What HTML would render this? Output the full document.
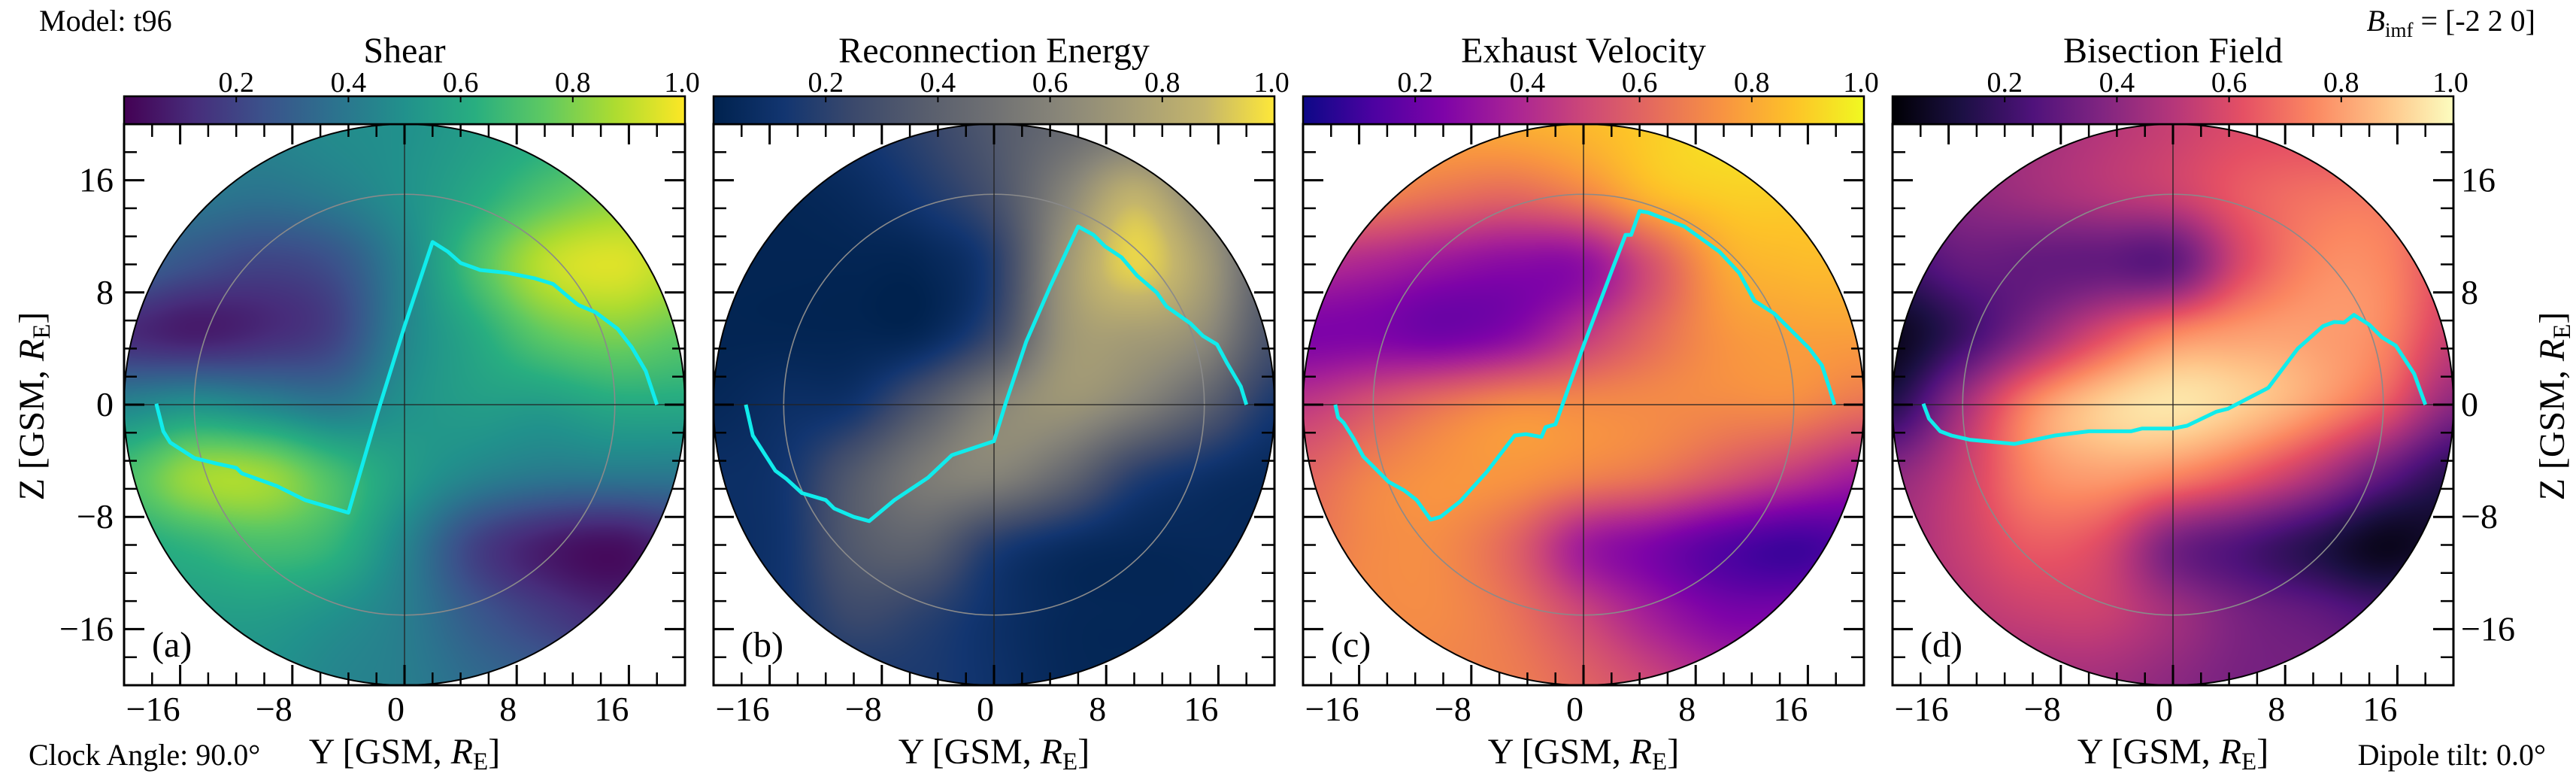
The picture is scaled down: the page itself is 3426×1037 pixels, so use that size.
<!DOCTYPE html>
<html><head><meta charset="utf-8">
<style>
html,body{margin:0;padding:0;background:#fff;}
#wrap{position:relative;width:3426px;height:1037px;overflow:hidden;background:#fff;}
canvas{position:absolute;top:165px;}
svg{position:absolute;left:0;top:0;}
text{font-family:"Liberation Serif",serif;fill:#000;}
</style></head>
<body>
<div id="wrap">
<canvas id="cv0" width="746" height="746" style="left:165px"></canvas>
<canvas id="cv1" width="746" height="746" style="left:949px"></canvas>
<canvas id="cv2" width="746" height="746" style="left:1733px"></canvas>
<canvas id="cv3" width="746" height="746" style="left:2517px"></canvas>
<svg id="svg" width="3426" height="1037" xmlns="http://www.w3.org/2000/svg">
<text x="52" y="41" font-size="40">Model: t96</text>
<text x="3372" y="41" font-size="40" text-anchor="end"><tspan font-style="italic">B</tspan><tspan font-size="27" dy="8">imf</tspan><tspan dy="-8"> = [-2 2 0]</tspan></text>
<text x="38" y="1017" font-size="40">Clock Angle: 90.0°</text>
<text x="3386" y="1017" font-size="40" text-anchor="end">Dipole tilt: 0.0°</text>
<text transform="translate(58,540) rotate(-90)" text-anchor="middle" font-size="48">Z [GSM, <tspan font-style="italic">R</tspan><tspan font-size="33" dy="8">E</tspan><tspan dy="-8">]</tspan></text>
<text transform="translate(3410,540) rotate(-90)" text-anchor="middle" font-size="48">Z [GSM, <tspan font-style="italic">R</tspan><tspan font-size="33" dy="8">E</tspan><tspan dy="-8">]</tspan></text>
</svg>
</div>
<script>
// ---- data ----
const gridY = [-20,-15,-10,-5,0,5,10,15,20];
const gridZ = [20,15,10,5,0,-5,-10,-15,-20];
const shearGrid = [
[.45,.45,.45,.48,.50,.55,.60,.65,.70],
[.40,.40,.38,.42,.50,.60,.72,.80,.80],
[.32,.25,.20,.25,.45,.70,.90,.95,.88],
[.12,.08,.12,.20,.45,.60,.75,.80,.75],
[.45,.50,.45,.40,.50,.55,.55,.60,.60],
[.70,.85,.85,.70,.55,.45,.40,.40,.40],
[.60,.65,.70,.65,.45,.20,.08,.04,.12],
[.55,.55,.55,.50,.42,.28,.18,.12,.18],
[.50,.50,.50,.45,.42,.35,.30,.25,.30]];
const energyGrid = [
[.04,.08,.12,.22,.35,.45,.50,.35,.20],
[.03,.03,.06,.15,.30,.60,.85,.60,.30],
[.02,.02,.02,.03,.18,.70,.95,.75,.35],
[.02,.02,.02,.04,.25,.70,.75,.65,.30],
[.04,.08,.12,.35,.60,.70,.60,.40,.15],
[.08,.12,.35,.55,.60,.45,.20,.10,.05],
[.08,.12,.35,.40,.18,.08,.04,.04,.04],
[.08,.12,.25,.20,.10,.04,.03,.03,.04],
[.08,.12,.14,.15,.10,.04,.03,.03,.04]];
const exhaustGrid = [
[.80,.80,.80,.82,.85,.90,.95,.95,.90],
[.70,.70,.65,.62,.70,.85,.90,.90,.88],
[.42,.38,.32,.28,.30,.55,.80,.85,.85],
[.25,.25,.22,.28,.45,.62,.75,.78,.78],
[.45,.55,.65,.72,.72,.72,.72,.72,.65],
[.60,.70,.75,.75,.70,.65,.55,.45,.35],
[.65,.72,.72,.60,.35,.25,.15,.10,.15],
[.70,.72,.72,.65,.50,.35,.25,.25,.30],
[.70,.70,.70,.68,.60,.50,.40,.40,.40]];
const bisectionGrid = [
[.40,.42,.45,.50,.55,.60,.60,.55,.50],
[.35,.40,.45,.50,.55,.65,.70,.70,.60],
[.20,.30,.30,.30,.30,.60,.75,.75,.60],
[.05,.20,.40,.60,.75,.80,.80,.75,.55],
[.15,.45,.75,.90,.95,.90,.80,.65,.40],
[.40,.55,.75,.80,.75,.65,.50,.30,.15],
[.45,.55,.65,.60,.35,.25,.15,.05,.10],
[.40,.50,.55,.55,.45,.35,.30,.25,.30],
[.40,.45,.45,.45,.40,.35,.35,.35,.35]];

const lineA_Y = [-17.7,-17.2,-16.7,-15,-13.4,-12,-11.6,-9.1,-7.1,-4,-1.9,0,2,3.1,4,5.4,7.3,9.3,10.6,11.9,12.4,13.6,15.2,16.2,17.2,18];
const lineA_Z = [0.07,-1.9,-2.7,-3.8,-4.2,-4.5,-4.9,-5.8,-6.8,-7.7,-0.5,5.6,11.6,10.9,10.1,9.6,9.4,9,8.6,7.5,7.1,6.6,5.4,4.1,2.4,0];
const lineB_Y = [-17.7,-17.2,-15.6,-14.8,-13.7,-12,-11.4,-10,-8.9,-7.1,-4.7,-3,0,0.8,2.3,4,6,7.1,7.9,9.1,10.2,11.6,12.3,14,14.9,15.9,16.6,17.6,18];
const lineB_Z = [0,-2.2,-4.7,-5.3,-6.3,-6.8,-7.4,-8,-8.3,-6.8,-5.2,-3.6,-2.6,0,4.5,8.4,12.7,12.1,11.3,10.5,9.2,8,7,5.8,4.9,4.3,3,1.3,0];
const lineC_Y = [-17.7,-17.5,-17.1,-16.4,-15.7,-14.9,-13.9,-12.8,-11.9,-10.9,-10.2,-8.8,-6.9,-4.9,-4.1,-3,-2.7,-2,0,2,3,3.4,4,4.6,7.2,9.7,11.1,12.2,13.6,15,16.1,17,17.5,17.9];
const lineC_Z = [0,-0.9,-1.3,-2.4,-3.7,-4.5,-5.5,-6.1,-6.8,-8.2,-8,-6.9,-4.8,-2.2,-2.1,-2.3,-1.6,-1.4,4.2,9.5,12.1,12.1,13.8,13.7,12.7,10.9,9.4,7.4,6.5,5.1,4,2.8,1.3,0];
const lineD_Y = [-17.8,-17.4,-16.6,-15.8,-14.5,-11.3,-8.4,-6,-3,-2.2,0,1,3.1,3.9,6.8,8.9,10.7,11.5,12.2,12.9,14,14.9,15.9,17.2,18];
const lineD_Z = [0.07,-1,-1.9,-2.2,-2.5,-2.8,-2.2,-1.9,-1.9,-1.7,-1.7,-1.5,-0.5,-0.3,1.2,4,5.6,5.9,5.85,6.4,5.7,4.8,4.2,2.2,0];

const axisTicksMajor = [-16,-8,0,8,16];
const axisTicksMinor = [-18,-14,-12,-10,-6,-4,-2,2,4,6,10,12,14,18];
const cbarTicks = [0.2,0.4,0.6,0.8,1.0];
const cbarTickLabels = ["0.2","0.4","0.6","0.8","1.0"];

const viridis = ["#440154","#472d7b","#3b528b","#2c728e","#21918c","#28ae80","#5ec962","#addc30","#fde725"];
const cividis = ["#00224e","#123570","#3b496c","#575d6d","#707173","#8a8779","#a69d75","#c4b56c","#fee838"];
const plasma  = ["#0d0887","#4c02a1","#7e03a8","#a92395","#cc4778","#e56b5d","#f89441","#fdc328","#f0f921"];
const magma   = ["#000004","#1c1044","#4f127b","#812581","#b5367a","#e55064","#fb8761","#fec287","#fcfdbf"];

const panels = [
 {left:165, title:"Shear", tag:"(a)", grid:shearGrid, cmap:viridis, ly:lineA_Y, lz:lineA_Z, name:"shear"},
 {left:949, title:"Reconnection Energy", tag:"(b)", grid:energyGrid, cmap:cividis, ly:lineB_Y, lz:lineB_Z, name:"reconnection-energy"},
 {left:1733, title:"Exhaust Velocity", tag:"(c)", grid:exhaustGrid, cmap:plasma, ly:lineC_Y, lz:lineC_Z, name:"exhaust-velocity"},
 {left:2517, title:"Bisection Field", tag:"(d)", grid:bisectionGrid, cmap:magma, ly:lineD_Y, lz:lineD_Z, name:"bisection-field"}
];

// ---- geometry ----
const TOP = 165, SIZE = 746, HALF = 373, CY = TOP + HALF, PPU = SIZE / 40;
function xs(p, y){ return p.left + HALF + y * PPU; }
function ys(z){ return CY - z * PPU; }

function hex(h){ return [parseInt(h.substr(1,2),16),parseInt(h.substr(3,2),16),parseInt(h.substr(5,2),16)]; }
function cmapColor(cm, v){
  v = Math.max(0, Math.min(1, v));
  const f = v * (cm.length - 1), i = Math.min(cm.length - 2, Math.floor(f)), t = f - i;
  const a = hex(cm[i]), b = hex(cm[i+1]);
  return [a[0]+(b[0]-a[0])*t, a[1]+(b[1]-a[1])*t, a[2]+(b[2]-a[2])*t];
}
function cr(p0,p1,p2,p3,t){ return 0.5*((2*p1)+(-p0+p2)*t+(2*p0-5*p1+4*p2-p3)*t*t+(-p0+3*p1-3*p2+p3)*t*t*t); }
function sample(g, u, v){
  const n = g.length;
  const iu = Math.min(n-2, Math.floor(u)), iv = Math.min(n-2, Math.floor(v));
  const tu = u - iu, tv = v - iv;
  const cl = k => Math.max(0, Math.min(n-1, k));
  const rows = [];
  for (let j=-1;j<=2;j++){
    const r = g[cl(iv+j)];
    rows.push(cr(r[cl(iu-1)], r[cl(iu)], r[cl(iu+1)], r[cl(iu+2)], tu));
  }
  return cr(rows[0], rows[1], rows[2], rows[3], tv);
}

const NS = "http://www.w3.org/2000/svg";
const svg = document.getElementById("svg");
function el(tag, attrs, parent){
  const e = document.createElementNS(NS, tag);
  for (const k in attrs) e.setAttribute(k, attrs[k]);
  (parent || svg).appendChild(e);
  return e;
}

panels.forEach((p, idx) => {
  const cv = document.getElementById("cv" + idx), ctx = cv.getContext("2d");
  const img = ctx.createImageData(SIZE, SIZE);
  const span = gridY[gridY.length-1] - gridY[0];
  for (let py=0; py<SIZE; py++){
    for (let px=0; px<SIZE; px++){
      const dx = px + 0.5 - HALF, dy = py + 0.5 - HALF;
      const o = (py*SIZE + px)*4;
      if (dx*dx + dy*dy > HALF*HALF) { img.data[o+3] = 0; continue; }
      const Y = dx / PPU, Z = -dy / PPU;
      const u = (Y - gridY[0]) / span * (gridY.length-1);
      const v = (gridZ[0] - Z) / span * (gridZ.length-1);
      const c = cmapColor(p.cmap, sample(p.grid, u, v));
      img.data[o]=c[0]; img.data[o+1]=c[1]; img.data[o+2]=c[2]; img.data[o+3]=255;
    }
  }
  ctx.putImageData(img, 0, 0);

  const g = el("g", {});
  
  

  const oc = el("circle", {cx:p.left+HALF, cy:CY, r:HALF, fill:"none", stroke:"#000", "stroke-width":2}, g);
  
  
  const ic = el("circle", {cx:p.left+HALF, cy:CY, r:15*PPU, fill:"none", stroke:"#8a8a8a", "stroke-width":1.6}, g);
  
  
  const hl = el("line", {x1:p.left, x2:p.left+SIZE, y1:ys(0), y2:ys(0), stroke:"#222", "stroke-width":1.3}, g);
  
  
  const vl = el("line", {x1:xs(p,0), x2:xs(p,0), y1:TOP, y2:TOP+SIZE, stroke:"#222", "stroke-width":1.3}, g);
  
  

  let d = "";
  p.ly.forEach((y, i) => { d += (i ? "L" : "M") + xs(p, y).toFixed(1) + "," + ys(p.lz[i]).toFixed(1); });
  const path = el("path", {d:d, fill:"none", stroke:"#10ecec", "stroke-width":5, "stroke-linejoin":"round"}, g);
  
  

  const fr = el("rect", {x:p.left, y:TOP, width:SIZE, height:SIZE, fill:"none", stroke:"#000", "stroke-width":3}, g);
  
  

  function ticks(vals, len, w){
    vals.forEach(t => {
      const x = xs(p, t), y = ys(t);
      el("line", {x1:x, x2:x, y1:TOP, y2:TOP+len, stroke:"#000", "stroke-width":w}, g);
      el("line", {x1:x, x2:x, y1:TOP+SIZE, y2:TOP+SIZE-len, stroke:"#000", "stroke-width":w}, g);
      el("line", {x1:p.left, x2:p.left+len, y1:y, y2:y, stroke:"#000", "stroke-width":w}, g);
      el("line", {x1:p.left+SIZE, x2:p.left+SIZE-len, y1:y, y2:y, stroke:"#000", "stroke-width":w}, g);
    });
  }
  ticks(axisTicksMajor, 27, 3);
  ticks(axisTicksMinor, 17, 2.5);

  axisTicksMajor.forEach(t => {
    const tx = el("text", {x:xs(p,t), y:958, "font-size":46, "text-anchor":"end"}, g);
    
    
    tx.textContent = t < 0 ? "\u2212" + Math.abs(t) : String(t);
  });
  if (idx === 0 || idx === 3) {
    axisTicksMajor.forEach(t => {
      const left = idx === 0;
      const tx = el("text", {x: left ? p.left-14 : p.left+SIZE+10, y:ys(t)+15, "font-size":46, "text-anchor": left ? "end" : "start"}, g);
      
      
      tx.textContent = t < 0 ? "\u2212" + Math.abs(t) : String(t);
    });
  }
  const xt = el("text", {x:p.left+HALF, y:1015, "font-size":48, "text-anchor":"middle"}, g);
  
  
  xt.innerHTML = 'Y [GSM, <tspan font-style="italic">R</tspan><tspan font-size="33" dy="8">E</tspan><tspan dy="-8">]</tspan>';

  const tg = el("text", {x:p.left+37, y:873, "font-size":48}, g);
  
  
  tg.textContent = p.tag;

  const gid = "grad" + idx;
  const defs = el("defs", {}, g);
  const lg = el("linearGradient", {id:gid, x1:0, x2:1, y1:0, y2:0}, defs);
  p.cmap.forEach((c, i) => el("stop", {offset:(i/(p.cmap.length-1)), "stop-color":c}, lg));
  const cb = el("rect", {x:p.left, y:128, width:SIZE, height:37, fill:"url(#"+gid+")", stroke:"#000", "stroke-width":2.5}, g);
  
  
  cbarTicks.forEach((t, i) => {
    const x = p.left + t*SIZE;
    el("line", {x1:x, x2:x, y1:128, y2:136, stroke:"#000", "stroke-width":2}, g);
    const tl = el("text", {x:i === cbarTicks.length-1 ? x-4 : x, y:122, "font-size":38, "text-anchor":"middle"}, g);
    
    
    tl.textContent = cbarTickLabels[i];
  });
  const tt = el("text", {x:p.left+HALF, y:83, "font-size":48, "text-anchor":"middle"}, g);
  
  
  tt.textContent = p.title;
});
</script>
</body></html>
